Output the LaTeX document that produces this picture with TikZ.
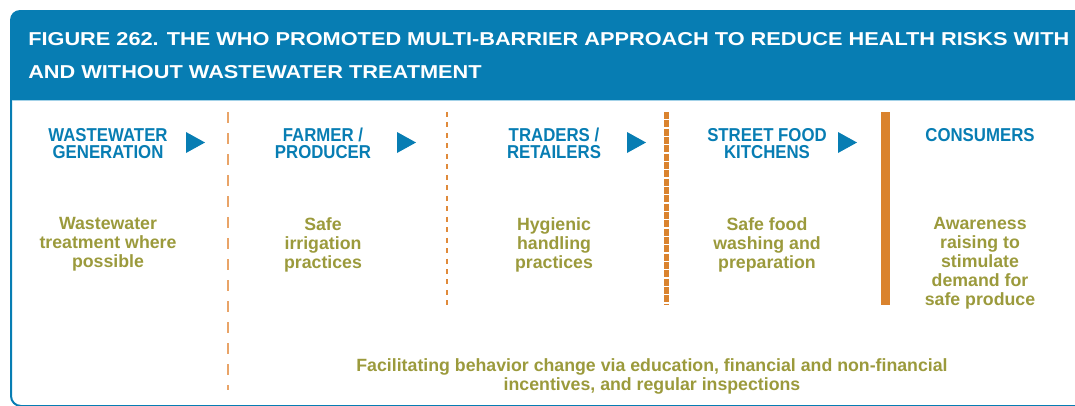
\documentclass[tikz,border=0pt]{standalone}
\usepackage{fontspec}
\setmainfont{Liberation Sans}
\newfontfamily\titlefont[FakeStretch=1.165]{Liberation Sans}
\newfontfamily\headfont[FakeStretch=0.9]{Liberation Sans}
\usetikzlibrary{positioning}

\definecolor{whoblue}{HTML}{077DB3}
\definecolor{lineblue}{HTML}{A3D2E8}
\definecolor{olive}{HTML}{9B9A3C}
\definecolor{barorange}{HTML}{DA832E}
\definecolor{dotorange}{HTML}{E08A3A}
\definecolor{lightorange}{HTML}{E9A468}

\tikzset{
	titletext/.style={text=white, anchor=north west, inner sep=0pt, font=\titlefont\bfseries\fontsize{14}{14}\selectfont},
	stagehead/.style={text=whoblue, anchor=north, inner sep=0pt, align=center, font=\headfont\bfseries\fontsize{14}{12.75}\selectfont},
	stagetask/.style={text=olive, anchor=north, inner sep=0pt, align=center, font=\bfseries\fontsize{13.3}{14.25}\selectfont},
	pointer/.style={fill=whoblue},
}

\begin{document}
\begin{tikzpicture}[x=0.75pt, y=-0.75pt]
\useasboundingbox (0,0) rectangle (1075,405);

% Frame
\fill[whoblue] (10,100) [rounded corners=7.5pt] -- (10,10) [sharp corners] -- (1090,10) -- (1090,100) -- cycle;
\draw[whoblue, line width=1.5pt] (11,100) [rounded corners=7.5pt] -- (11,406) [sharp corners] -- (1090,406);
\draw[lineblue, line width=0.8pt] (12,100.5) -- (1075,100.5);

\node[titletext] (title1) at (28,32) {FIGURE 262. THE WHO PROMOTED MULTI-BARRIER APPROACH TO REDUCE HEALTH RISKS WITH};
\node[titletext] (title2) at (28,65) {AND WITHOUT WASTEWATER TREATMENT};

% Stages
\foreach \x/\head/\task [count=\i] in {
		108/{WASTEWATER\\GENERATION}/{Wastewater\\treatment where\\possible},
		323/{FARMER /\\PRODUCER}/{Safe\\irrigation\\practices},
		554/{TRADERS /\\RETAILERS}/{Hygienic\\handling\\practices},
		767/{STREET FOOD\\KITCHENS}/{Safe food\\washing and\\preparation},
		980/{CONSUMERS}/{Awareness\\raising to\\stimulate\\demand for\\safe produce}}
	{
	\node[stagehead] (head\i) at (\x,128) {\head};
	\node[stagetask] (task\i) at (\x,217) {\task};
	}

\foreach \x in {186, 397, 627, 838}
	\fill[pointer] (\x,132) -- ({\x+19},142.5) -- (\x,153) -- cycle;

% Barriers
\draw[lightorange, line width=1.5pt, dash pattern=on 8.25pt off 7.5pt] (228,112) -- (228,390);
\draw[dotorange, line width=1.9pt, dash pattern=on 3.75pt off 4.1pt] (447,112) -- (447,305);
\draw[barorange, line width=3.75pt, dash pattern=on 5.25pt off 1pt] (666,112) -- (666,305);
\draw[barorange, line width=6.75pt] (885,112) -- (885,305);

\node[stagetask] (incentives) at (652,358) {Facilitating behavior change via education, financial and non-financial\\incentives, and regular inspections};

\end{tikzpicture}
\end{document}
